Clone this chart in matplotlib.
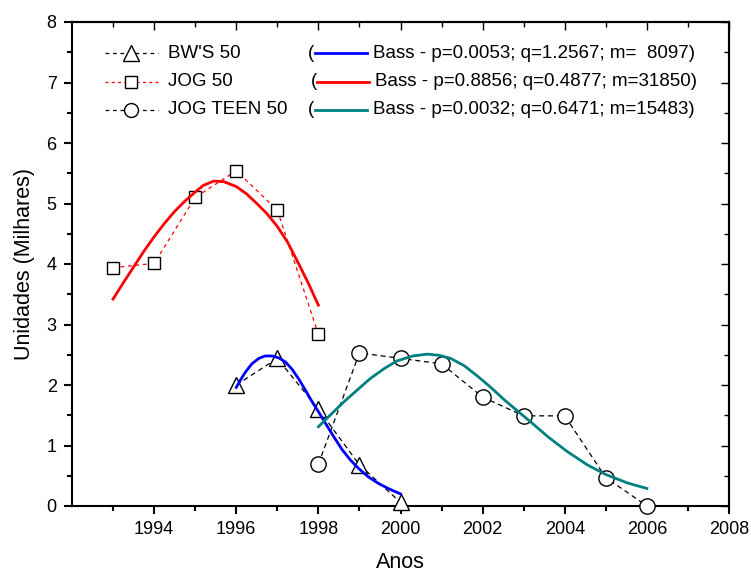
import matplotlib
matplotlib.use("Agg")
import matplotlib.pyplot as plt
from matplotlib.ticker import MultipleLocator

plt.rcParams['font.family'] = ['Liberation Sans', 'DejaVu Sans']

# Observed data
bw_years = [1996, 1997, 1998, 1999, 2000]
bw_vals = [2.00, 2.44, 1.60, 0.68, 0.06]

jog_years = [1993, 1994, 1995, 1996, 1997, 1998]
jog_vals = [3.94, 4.01, 5.10, 5.54, 4.89, 2.84]

teen_years = [1998, 1999, 2000, 2001, 2002, 2003, 2004, 2005, 2006]
teen_vals = [0.69, 2.53, 2.44, 2.35, 1.80, 1.49, 1.49, 0.47, 0.00]

# Bass fitted curves
bass_bw_x = [1996.0, 1996.1, 1996.22, 1996.38, 1996.55, 1996.7, 1996.87, 1997.03, 1997.2, 1997.36, 1997.52,
             1997.68, 1997.85, 1998.01, 1998.17, 1998.38, 1998.58, 1998.78, 1998.98, 1999.22, 1999.47,
             1999.73, 2000.0]
bass_bw_y = [1.96, 2.08, 2.21, 2.35, 2.44, 2.48, 2.48, 2.45, 2.38, 2.26, 2.10,
             1.92, 1.72, 1.55, 1.37, 1.14, 0.93, 0.76, 0.62, 0.48, 0.37,
             0.28, 0.20]

bass_jog_x = [1993.0, 1993.25, 1993.5, 1993.75, 1994.0, 1994.25, 1994.5, 1994.75, 1995.0, 1995.2, 1995.45,
              1995.7, 1996.0, 1996.25, 1996.5, 1996.75, 1997.0, 1997.25, 1997.5, 1997.75, 1998.0]
bass_jog_y = [3.42, 3.69, 3.95, 4.21, 4.45, 4.67, 4.87, 5.04, 5.19, 5.30, 5.37,
              5.36, 5.28, 5.16, 5.00, 4.83, 4.62, 4.36, 4.03, 3.69, 3.32]

bass_teen_x = [1998.0, 1998.3, 1998.62, 1998.95, 1999.27, 1999.6, 1999.92, 2000.3, 2000.65, 2000.95, 2001.22,
               2001.55, 2001.87, 2002.2, 2002.52, 2002.85, 2003.17, 2003.58, 2004.06, 2004.55, 2005.0,
               2005.53, 2006.0]
bass_teen_y = [1.31, 1.51, 1.72, 1.92, 2.11, 2.27, 2.40, 2.48, 2.51, 2.49, 2.44,
               2.32, 2.15, 1.96, 1.76, 1.57, 1.39, 1.15, 0.90, 0.68, 0.52,
               0.38, 0.29]

legend_labels = ["BW'S 50", "JOG 50", "JOG TEEN 50"]
bass_labels = ["Bass - p=0.0053; q=1.2567; m=  8097)",
               "Bass - p=0.8856; q=0.4877; m=31850)",
               "Bass - p=0.0032; q=0.6471; m=15483)"]

BLUE = '#0000ff'
RED = '#ff0000'
TEAL = '#008080'

fig = plt.figure(figsize=(7.51, 5.76), dpi=100)
ax = fig.add_axes([72/751, 1-506/576, 657/751, 484/576])

mk = dict(markerfacecolor='white', markeredgecolor='black', markeredgewidth=1.0)
ax.plot(bw_years, bw_vals, color='black', lw=0.9, ls=(0, (4, 3)), marker='^', markersize=12, zorder=3, clip_on=False, **mk)
ax.plot(jog_years, jog_vals, color=RED, lw=0.9, ls=(0, (3, 3)), marker='s', markersize=9, zorder=3, clip_on=False, **mk)
ax.plot(teen_years, teen_vals, color='black', lw=0.9, ls=(0, (4, 3)), marker='o', markersize=11, zorder=3, clip_on=False, **mk)

ax.plot(bass_bw_x, bass_bw_y, color=BLUE, lw=2.0, zorder=4, solid_joinstyle='round')
ax.plot(bass_jog_x, bass_jog_y, color=RED, lw=2.0, zorder=4, solid_joinstyle='round')
ax.plot(bass_teen_x, bass_teen_y, color=TEAL, lw=2.0, zorder=4, solid_joinstyle='round')

ax.set_xlim(1992, 2008)
ax.set_ylim(0, 8)
ax.yaxis.set_major_locator(MultipleLocator(1))
ax.yaxis.set_minor_locator(MultipleLocator(0.5))
ax.set_xticks([1994, 1996, 1998, 2000, 2002, 2004, 2006, 2008])
ax.set_xticks([1993, 1995, 1997, 1999, 2001, 2003, 2005, 2007], minor=True)

for s in ax.spines.values():
    s.set_linewidth(1.5)
ax.tick_params(which='major', direction='out', length=6, width=1.5, labelsize=13, pad=5)
ax.tick_params(which='minor', direction='out', length=3.5, width=1.5)

secx = ax.secondary_xaxis('top')
secx.set_xticks([1994, 1996, 1998, 2000, 2002, 2004, 2006, 2008])
secx.set_xticks([1993, 1995, 1997, 1999, 2001, 2003, 2005, 2007], minor=True)
secx.tick_params(which='both', direction='in', labeltop=False, width=1.0)
secx.tick_params(which='major', length=6)
secx.tick_params(which='minor', length=3.5)
secx.spines['top'].set_linewidth(1.5)

secy = ax.secondary_yaxis('right')
secy.yaxis.set_major_locator(MultipleLocator(1))
secy.yaxis.set_minor_locator(MultipleLocator(0.5))
secy.tick_params(which='both', direction='in', labelright=False, width=1.0)
secy.tick_params(which='major', length=6)
secy.tick_params(which='minor', length=3.5)
secy.spines['right'].set_linewidth(1.5)

ax.set_xlabel('Anos', fontsize=15.5, labelpad=10)
ax.set_ylabel('Unidades (Milhares)', fontsize=15.5, labelpad=8)

# Manual legend (positions in axes fraction)
def fx(px):
    return (px - 72) / 657.0

def fy(py):
    return (506 - py) / 484.0

rows_y = [53, 82, 110]
styles = [('black', (0, (3, 3)), '^', 11), (RED, (0, (2.5, 2.5)), 's', 9), ('black', (0, (3, 3)), 'o', 10)]
bass_colors = [BLUE, RED, TEAL]
paren_x = [308, 311, 308]
line_x = [(315, 367), (317, 369), (315, 367)]
text_x = [373, 375, 373]

for i, py in enumerate(rows_y):
    c, ls, m, ms = styles[i]
    y = fy(py)
    ax.plot([fx(105), fx(158)], [y, y], transform=ax.transAxes, color=c, lw=0.9, ls=ls, clip_on=False)
    ax.plot([fx(131)], [y], transform=ax.transAxes, marker=m, markersize=ms, ls='none', clip_on=False, **mk)
    ax.text(fx(168), y, legend_labels[i], transform=ax.transAxes, fontsize=13.5, va='center', ha='left')
    ax.text(fx(paren_x[i]), y, '(', transform=ax.transAxes, fontsize=13.5, va='center', ha='left')
    ax.plot([fx(line_x[i][0]), fx(line_x[i][1])], [y, y], transform=ax.transAxes, color=bass_colors[i], lw=2.0, clip_on=False)
    ax.text(fx(text_x[i]), y, bass_labels[i], transform=ax.transAxes, fontsize=13.5, va='center', ha='left')

fig.savefig('out.png', dpi=100)
